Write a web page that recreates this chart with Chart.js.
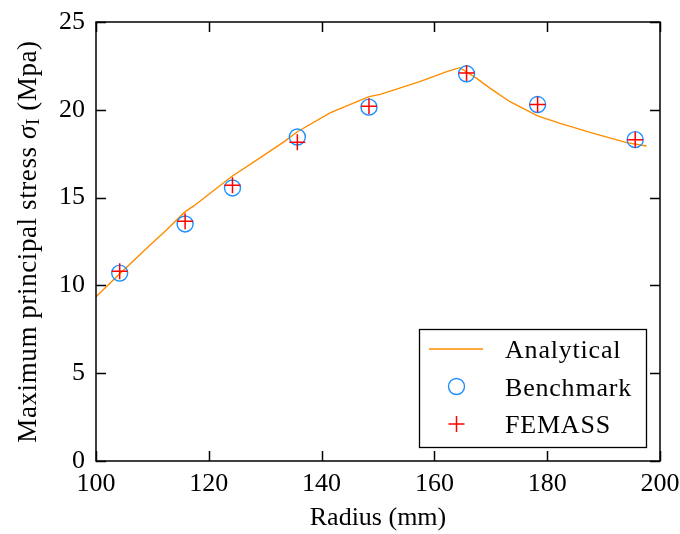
<!DOCTYPE html>
<html>
<head>
<meta charset="utf-8">
<script src="https://cdn.jsdelivr.net/npm/chart.js@4/dist/chart.umd.min.js"></script>
<style>
  html, body { margin: 0; padding: 0; background: #fff; }
  #wrap { width: 680px; height: 534px; }
</style>
</head>
<body>
<div id="wrap"><canvas id="stressChart" width="680" height="534"></canvas></div>
<script>
// values
const analyticalR = [100, 104.3, 109.6, 112.5, 115.8, 117.4, 124.0, 129.4, 133.5, 135.7, 141.5, 148.4, 150.4, 157.4, 162.2, 164.5, 167.5, 169.9, 173.4, 178.3, 182.3, 188.2, 194.1, 197.6];
const analyticalS = [9.36, 10.69, 12.3, 13.15, 14.2, 14.54, 16.19, 17.33, 18.22, 18.75, 19.83, 20.75, 20.88, 21.6, 22.17, 22.4, 21.79, 21.22, 20.46, 19.65, 19.23, 18.66, 18.13, 17.94];

const pointR = [104.2, 115.8, 124.2, 135.7, 148.4, 165.7, 178.3, 195.6];
const benchmarkS = [10.7, 13.5, 15.55, 18.45, 20.15, 22.05, 20.3, 18.3];
const femassS = [10.8, 13.65, 15.7, 18.15, 20.2, 22.1, 20.3, 18.3];

const xTicks = [100, 120, 140, 160, 180, 200];
const yTicks = [0, 5, 10, 15, 20, 25];

const FONT = "'Liberation Serif', 'Times New Roman', serif";
const toXY = (xs, ys) => xs.map((x, i) => ({ x, y: ys[i] }));

// box around the plot with inward ticks on all four sides
const frameTicks = {
  id: 'frameTicks',
  afterDatasetsDraw(chart) {
    const { ctx, chartArea: a, scales } = chart;
    const len = 10;
    ctx.save();
    ctx.strokeStyle = '#000';
    ctx.lineWidth = 1.5;
    ctx.beginPath();
    xTicks.forEach((v) => {
      const px = Math.round(scales.x.getPixelForValue(v)) + 0.5;
      ctx.moveTo(px, a.bottom); ctx.lineTo(px, a.bottom - len);
      ctx.moveTo(px, a.top); ctx.lineTo(px, a.top + len);
    });
    yTicks.forEach((v) => {
      const py = Math.round(scales.y.getPixelForValue(v)) + 0.5;
      ctx.moveTo(a.left, py); ctx.lineTo(a.left + len, py);
      ctx.moveTo(a.right, py); ctx.lineTo(a.right - len, py);
    });
    ctx.stroke();
    ctx.strokeRect(a.left, a.top, a.right - a.left, a.bottom - a.top);
    ctx.restore();
  },
};

// y title with italic sigma and subscript I
const yTitle = {
  id: 'yTitle',
  afterDraw(chart) {
    const { ctx, chartArea: a } = chart;
    const parts = [
      { t: 'Maximum principal stress ', f: `27px ${FONT}`, dy: 0 },
      { t: 'σ', f: `italic 27px ${FONT}`, dy: 0 },
      { t: 'I', f: `19px ${FONT}`, dy: 5 },
      { t: ' (Mpa)', f: `27px ${FONT}`, dy: 0 },
    ];
    ctx.save();
    ctx.letterSpacing = '0.6px';
    let total = 0;
    parts.forEach((p) => { ctx.font = p.f; p.w = ctx.measureText(p.t).width; total += p.w; });
    ctx.translate(29, (a.top + a.bottom) / 2);
    ctx.rotate(-Math.PI / 2);
    ctx.fillStyle = '#000';
    ctx.textBaseline = 'middle';
    let x = -total / 2;
    parts.forEach((p) => {
      ctx.font = p.f;
      ctx.fillText(p.t, x, p.dy);
      x += p.w;
    });
    ctx.restore();
  },
};

// legend box in the lower right corner of the plot
const boxLegend = {
  id: 'boxLegend',
  afterDraw(chart) {
    const { ctx } = chart;
    const ds = chart.data.datasets;
    const left = 419, top = 329, w = 227, h = 118;
    const rows = [349, 386.5, 424];
    ctx.save();
    ctx.fillStyle = '#fff';
    ctx.fillRect(left, top, w, h);
    ctx.strokeStyle = '#000';
    ctx.lineWidth = 1.3;
    ctx.strokeRect(left + 0.5, top + 0.5, w, h);
    ds.forEach((d, i) => {
      const cy = rows[i];
      const cx = 456.5;
      ctx.strokeStyle = d.borderColor;
      ctx.lineWidth = d.borderWidth;
      ctx.beginPath();
      if (d.showLine) {
        ctx.moveTo(429, cy); ctx.lineTo(483, cy);
      } else if (d.pointStyle === 'circle') {
        ctx.arc(cx, cy, d.pointRadius, 0, Math.PI * 2);
      } else {
        ctx.moveTo(cx - d.pointRadius, cy); ctx.lineTo(cx + d.pointRadius, cy);
        ctx.moveTo(cx, cy - d.pointRadius); ctx.lineTo(cx, cy + d.pointRadius);
      }
      ctx.stroke();
      ctx.fillStyle = '#000';
      ctx.font = `26px ${FONT}`;
      ctx.letterSpacing = '0.8px';
      ctx.textBaseline = 'alphabetic';
      ctx.fillText(d.label, 505, cy + 9);
    });
    ctx.restore();
  },
};

const canvas = document.getElementById('stressChart');
new Chart(canvas.getContext('2d'), {
  type: 'scatter',
  data: {
    datasets: [
      {
        label: 'Analytical',
        data: toXY(analyticalR, analyticalS),
        showLine: true,
        borderColor: '#ff8c00',
        borderWidth: 1.4,
        pointRadius: 0,
        tension: 0,
        order: 3,
      },
      {
        label: 'Benchmark',
        data: toXY(pointR, benchmarkS),
        pointStyle: 'circle',
        pointRadius: 8,
        borderColor: '#1e90ff',
        backgroundColor: 'rgba(0,0,0,0)',
        borderWidth: 1.4,
        order: 2,
      },
      {
        label: 'FEMASS',
        data: toXY(pointR, femassS),
        pointStyle: 'cross',
        pointRadius: 8,
        borderColor: '#ff0000',
        borderWidth: 1.5,
        order: 1,
      },
    ],
  },
  options: {
    responsive: false,
    animation: false,
    devicePixelRatio: 1,
    layout: { padding: { top: 22, right: 20, left: 0, bottom: 0 } },
    plugins: {
      legend: { display: false },
      tooltip: { enabled: false },
    },
    scales: {
      x: {
        type: 'linear',
        min: 100,
        max: 200,
        afterFit: (s) => { s.height = 73; s.paddingLeft = 0; s.paddingRight = 0; },
        afterBuildTicks: (s) => { s.ticks = xTicks.map((v) => ({ value: v })); },
        grid: { display: false, drawTicks: false },
        border: { display: false },
        ticks: { color: '#000', padding: 8, maxRotation: 0, font: { family: FONT, size: 26 } },
        title: {
          display: true,
          text: 'Radius (mm)',
          color: '#000',
          padding: { top: 5, bottom: 0 },
          font: { family: FONT, size: 26 },
        },
      },
      y: {
        type: 'linear',
        min: 0,
        max: 25,
        afterFit: (s) => { s.width = 96; s.paddingTop = 0; s.paddingBottom = 0; },
        afterBuildTicks: (s) => { s.ticks = yTicks.map((v) => ({ value: v })); },
        grid: { display: false, drawTicks: false },
        border: { display: false },
        ticks: { color: '#000', padding: 11, font: { family: FONT, size: 26 } },
      },
    },
  },
  plugins: [frameTicks, yTitle, boxLegend],
});
</script>
</body>
</html>
